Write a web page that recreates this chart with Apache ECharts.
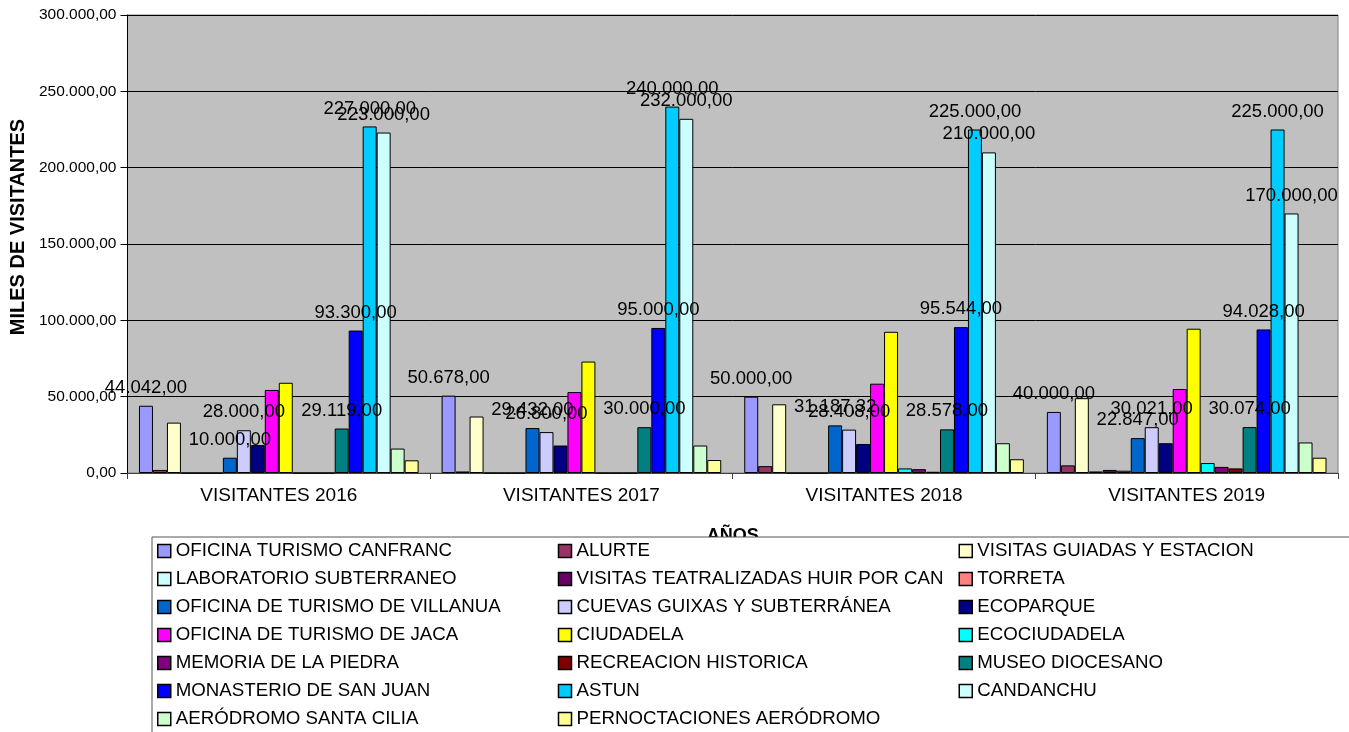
<!DOCTYPE html>
<html>
<head>
<meta charset="utf-8">
<script src="https://cdn.jsdelivr.net/npm/echarts@6/dist/echarts.min.js"></script>
<style>
html,body{margin:0;padding:0;background:#fff;}
#chart{width:1349px;height:732px;}
</style>
</head>
<body>
<div id="chart"></div>
<script>
const categories = ['VISITANTES 2016', 'VISITANTES 2017', 'VISITANTES 2018', 'VISITANTES 2019'];
const yTicks = [0, 50000, 100000, 150000, 200000, 250000, 300000];

const oficinaCanfranc   = [44042, 50678, 50000, 40000];
const alurte            = [2000, 1000, 4500, 5000];
const visitasGuiadas    = [33000, 37000, 45000, 49000];
const laboratorio       = [0, 0, 0, 1000];
const teatralizadas     = [0, 0, 0, 2000];
const torreta           = [0, 0, 0, 1500];
const oficinaVillanua   = [10000, 29432, 31187.32, 22847];
const cuevasGuixas      = [28000, 26800, 28408, 30021];
const ecoparque         = [18300, 18000, 19000, 19500];
const oficinaJaca       = [54400, 53000, 58500, 55000];
const ciudadela         = [59100, 73000, 92500, 94500];
const ecociudadela      = [0, 0, 3000, 6500];
const memoriaPiedra     = [0, 0, 2500, 4000];
const recreacion        = [0, 0, 800, 3000];
const museoDiocesano    = [29119, 30000, 28578, 30074];
const monasterio        = [93300, 95000, 95544, 94028];
const astun             = [227000, 240000, 225000, 225000];
const candanchu         = [223000, 232000, 210000, 170000];
const aerodromo         = [16000, 18000, 19500, 20000];
const pernoctaciones    = [8300, 8500, 9000, 10000];

const seriesNames = [
  'OFICINA TURISMO CANFRANC', 'ALURTE', 'VISITAS GUIADAS Y ESTACION',
  'LABORATORIO SUBTERRANEO', 'VISITAS TEATRALIZADAS HUIR POR CAN', 'TORRETA',
  'OFICINA DE TURISMO DE VILLANUA', 'CUEVAS GUIXAS Y SUBTERRÁNEA', 'ECOPARQUE',
  'OFICINA DE TURISMO DE JACA', 'CIUDADELA', 'ECOCIUDADELA',
  'MEMORIA DE LA PIEDRA', 'RECREACION HISTORICA', 'MUSEO DIOCESANO',
  'MONASTERIO DE SAN JUAN', 'ASTUN', 'CANDANCHU',
  'AERÓDROMO SANTA CILIA', 'PERNOCTACIONES AERÓDROMO'
];
const seriesValues = [
  oficinaCanfranc, alurte, visitasGuiadas,
  laboratorio, teatralizadas, torreta,
  oficinaVillanua, cuevasGuixas, ecoparque,
  oficinaJaca, ciudadela, ecociudadela,
  memoriaPiedra, recreacion, museoDiocesano,
  monasterio, astun, candanchu,
  aerodromo, pernoctaciones
];
const seriesColors = [
  '#9999FF', '#993366', '#FFFFCC',
  '#CCFFFF', '#660066', '#FF8080',
  '#0066CC', '#CCCCFF', '#000080',
  '#FF00FF', '#FFFF00', '#00FFFF',
  '#800080', '#800000', '#008080',
  '#0000FF', '#00CCFF', '#CCFFFF',
  '#CCFFCC', '#FFFF99'
];
const labeledSeries = [
  'OFICINA TURISMO CANFRANC', 'OFICINA DE TURISMO DE VILLANUA', 'CUEVAS GUIXAS Y SUBTERRÁNEA',
  'MUSEO DIOCESANO', 'MONASTERIO DE SAN JUAN', 'ASTUN', 'CANDANCHU'
];

function fmtES(v) {
  const neg = v < 0;
  const fixed = Math.abs(v).toFixed(2);
  const parts = fixed.split('.');
  const intPart = parts[0].replace(/\B(?=(\d{3})+(?!\d))/g, '.');
  return (neg ? '-' : '') + intPart + ',' + parts[1];
}

const FONT = '"Liberation Sans", Arial, sans-serif';

const series = seriesNames.map((name, i) => ({
  name: name,
  type: 'bar',
  data: seriesValues[i],
  barGap: '0%',
  barCategoryGap: '7.6%',
  itemStyle: { color: seriesColors[i], borderColor: '#000', borderWidth: 1 },
  label: {
    show: labeledSeries.indexOf(name) >= 0,
    position: 'top',
    distance: 8.5,
    fontFamily: FONT,
    fontSize: 18.5,
    color: '#000',
    formatter: p => fmtES(p.value)
  },
  emphasis: { disabled: true }
}));

const chart = echarts.init(document.getElementById('chart'));
chart.setOption({
  animation: false,
  backgroundColor: '#fff',
  textStyle: { fontFamily: FONT },
  grid: {
    left: 126, right: 11, top: 15, bottom: 259,
    show: true, backgroundColor: '#C0C0C0', borderColor: '#808080', borderWidth: 1
  },
  xAxis: {
    type: 'category',
    data: categories,
    name: 'AÑOS',
    nameLocation: 'middle',
    nameGap: 54,
    nameTextStyle: { fontFamily: FONT, fontSize: 18, fontWeight: 'bold', color: '#000' },
    axisLine: { lineStyle: { color: '#404040', width: 1 } },
    axisTick: { show: true, length: 6, lineStyle: { color: '#404040' } },
    axisLabel: { fontFamily: FONT, fontSize: 19, color: '#000', margin: 13 }
  },
  yAxis: {
    type: 'value',
    min: yTicks[0],
    max: yTicks[yTicks.length - 1],
    interval: yTicks[1] - yTicks[0],
    name: 'MILES DE VISITANTES',
    nameLocation: 'middle',
    nameGap: 99,
    nameTextStyle: { fontFamily: FONT, fontSize: 20, fontWeight: 'bold', color: '#000', padding: [0, 0, 0, 34] },
    axisLine: { show: true, lineStyle: { color: '#000', width: 1 } },
    axisTick: { show: true, length: 7, lineStyle: { color: '#000' } },
    axisLabel: { fontFamily: FONT, fontSize: 15.5, color: '#000', margin: 11, formatter: v => fmtES(v) },
    splitLine: { show: true, lineStyle: { color: '#000', width: 1 } }
  },
  legend: {
    data: seriesNames,
    orient: 'horizontal',
    left: 152,
    top: 537,
    width: 1210,
    itemGap: 0,
    itemWidth: 13,
    itemHeight: 13,
    icon: 'rect',
    padding: [0, 0, 0, 5],
    backgroundColor: '#fff',
    borderColor: '#555',
    borderWidth: 1,
    selectedMode: false,
    itemStyle: { borderColor: '#000', borderWidth: 1.5 },
    textStyle: { fontFamily: FONT, fontSize: 18.7, color: '#000', width: 382, overflow: 'truncate', lineHeight: 28 }
  },
  series: series
});
</script>
</body>
</html>
